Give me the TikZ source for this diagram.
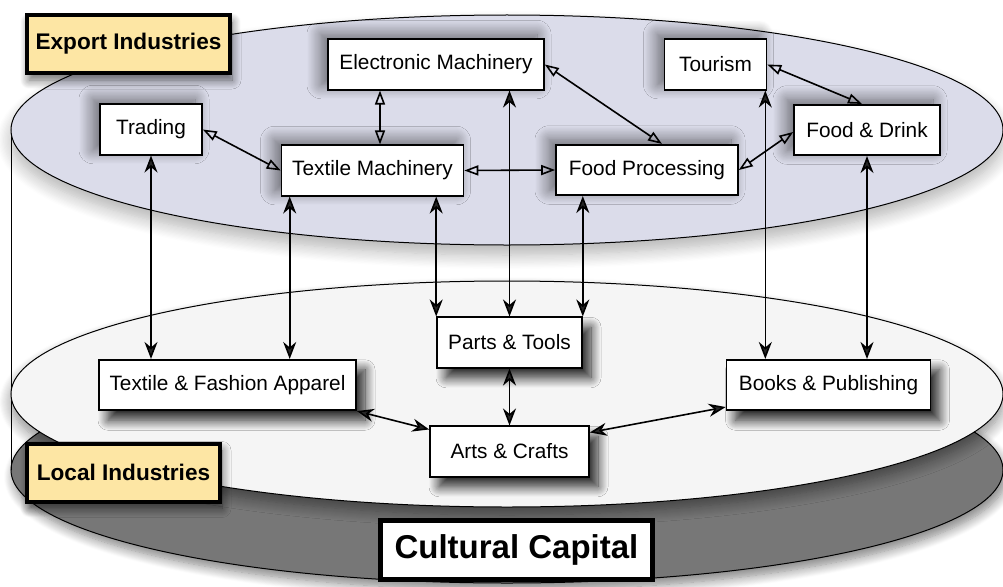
\documentclass[tikz,border=0pt]{standalone}
\usepackage{fontspec}
\setmainfont{Liberation Sans}
\usetikzlibrary{arrows.meta,shadows.blur,calc}
\definecolor{tagyellow}{RGB}{253,230,164}
\definecolor{toplayer}{RGB}{219,220,234}
\definecolor{midlayer}{RGB}{245,245,245}
\definecolor{baselayer}{RGB}{119,119,119}
\begin{document}
\begin{tikzpicture}[x=1pt,y=-1pt,
  box/.style={draw=black, line width=1.6pt, fill=white, font=\fontsize{20.8}{25}\selectfont, minimum height=50.5pt, inner sep=0pt},
  upshadow/.style={blur shadow={shadow xshift=-7pt, shadow yshift=5pt, shadow blur radius=14pt, shadow blur steps=16, shadow opacity=55}},
  downshadow/.style={blur shadow={shadow xshift=9pt, shadow yshift=-10pt, shadow blur radius=10pt, shadow blur steps=14, shadow opacity=85}},
  tag/.style={draw=black, line width=4pt, fill=tagyellow, font=\fontsize{22.6}{27}\bfseries\selectfont, inner sep=0pt, minimum height=58pt,
    blur shadow={shadow xshift=2pt, shadow yshift=-7pt, shadow blur radius=9pt, shadow blur steps=12, shadow opacity=60}},
  oarr/.style={line width=1.6pt, {Triangle[open,length=14pt,width=10pt]}-{Triangle[open,length=14pt,width=10pt]}},
  farr/.style={line width=1.6pt, {Stealth[length=17pt,width=13pt,inset=5.5pt]}-{Stealth[length=17pt,width=13pt,inset=5.5pt]}},
  layer/.style={draw=black, line width=1pt}
]
\useasboundingbox (0,0) rectangle (1003,586);
% cylinder layers
\path[layer, fill=baselayer, blur shadow={shadow xshift=3pt, shadow yshift=-7pt, shadow blur radius=10pt, shadow blur steps=12, shadow opacity=50}]
  (507,470) ellipse [x radius=496, y radius=113];
\draw[line width=1pt] (11,130) -- (11,470);
\path[layer, fill=midlayer, blur shadow={shadow xshift=0pt, shadow yshift=-8pt, shadow blur radius=12pt, shadow blur steps=12, shadow opacity=45}]
  (507,394) ellipse [x radius=496, y radius=113];
\path[layer, fill=toplayer, blur shadow={shadow xshift=0pt, shadow yshift=-10pt, shadow blur radius=14pt, shadow blur steps=12, shadow opacity=30}]
  (507,130) ellipse [x radius=496, y radius=115];

% export layer nodes
\node[box, upshadow, minimum width=216pt] (ElecMach) at (436,64.5) {Electronic Machinery};
\node[box, upshadow, minimum width=102pt] (Tourism) at (715.5,64.5) {Tourism};
\node[box, upshadow, minimum width=102pt] (Trading) at (151,129.5) {Trading};
\node[box, upshadow, minimum width=182pt] (TextMach) at (372.5,170.5) {Textile Machinery};
\node[box, upshadow, minimum width=182pt] (FoodProc) at (647,170) {Food Processing};
\node[box, upshadow, minimum width=146pt] (FoodDrink) at (867,130) {Food \& Drink};

% local layer nodes
\node[box, downshadow, minimum width=145pt] (PartsTools) at (509.5,342.5) {Parts \& Tools};
\node[box, downshadow, minimum width=257pt] (TextFash) at (227.5,385) {Textile \& Fashion Apparel};
\node[box, downshadow, minimum width=204pt] (Books) at (828.5,385) {Books \& Publishing};
\node[box, downshadow, minimum width=159pt] (Arts) at (509.5,451.5) {Arts \& Crafts};

% layer tags
\node[tag, minimum width=203pt] (ExportInd) at (128.5,44) {Export Industries};
\node[tag, minimum width=193pt] (LocalInd) at (123.5,472.5) {Local Industries};
\node[draw=black, line width=4.5pt, fill=white, font=\fontsize{33}{38}\bfseries\selectfont, inner sep=0pt,
      minimum width=272pt, minimum height=59pt] (Cultural) at (516.5,550) {Cultural Capital};

% export links (open heads)
\draw[oarr] (Trading.east) -- (TextMach.west);
\draw[oarr] ([xshift=7.5pt]TextMach.north) -- ([xshift=7.5pt]TextMach.north |- ElecMach.south);
\draw[oarr] (TextMach.east) -- (FoodProc.west);
\draw[oarr] (ElecMach.east) -- ([xshift=15pt]FoodProc.north);
\draw[oarr] (Tourism.east) -- ([xshift=-5pt]FoodDrink.north);
\draw[oarr] (FoodProc.east) -- ([yshift=-2pt]FoodDrink.west);

% cross-layer and local links (filled heads)
\draw[farr] (Trading.south) -- (Trading.south |- TextFash.north);
\draw[farr] ([xshift=9pt]TextMach.south west) -- ([xshift=9pt]TextMach.south west |- TextFash.north);
\draw[farr] (PartsTools.north west |- TextMach.south) -- (PartsTools.north west);
\draw[farr] (PartsTools.north |- ElecMach.south) -- (PartsTools.north);
\draw[farr] (PartsTools.north east |- FoodProc.south) -- (PartsTools.north east);
\draw[farr] ([xshift=-2pt]Tourism.south east) -- ([xshift=-2pt]Tourism.south east |- Books.north);
\draw[farr] (FoodDrink.south) -- (FoodDrink.south |- Books.north);
\draw[farr] (PartsTools.south) -- (Arts.north);
\draw[farr] (TextFash.south east) -- ([yshift=-4pt]Arts.north west);
\draw[farr] ([yshift=-7pt]Arts.north east) -- ([yshift=4pt]Books.south west);
\end{tikzpicture}
\end{document}
